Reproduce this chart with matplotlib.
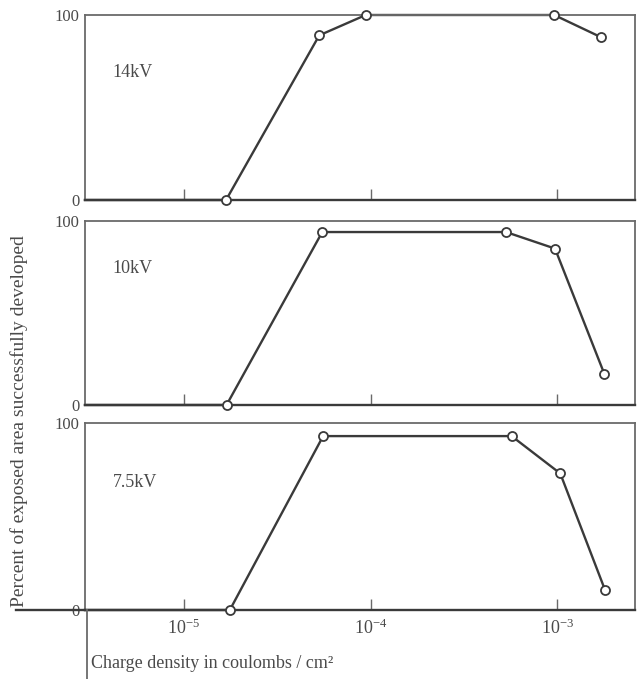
import matplotlib
matplotlib.use("Agg")
import matplotlib.pyplot as plt
from matplotlib.lines import Line2D

plt.rcParams['font.family'] = ['Liberation Serif', 'DejaVu Serif']
plt.rcParams['mathtext.fontset'] = 'custom'
plt.rcParams['mathtext.rm'] = 'Liberation Serif'
plt.rcParams['mathtext.it'] = 'Liberation Serif:italic'

# ---- data ----
panel_labels = ["14kV", "10kV", "7.5kV"]
x_14kv = [1.68e-5, 5.3e-5, 9.4e-5, 9.6e-4, 1.71e-3]
y_14kv = [0, 89, 100, 100, 88]
x_10kv = [1.69e-5, 5.5e-5, 5.3e-4, 9.7e-4, 1.78e-3]
y_10kv = [0, 94, 94, 85, 17]
x_75kv = [1.76e-5, 5.56e-5, 5.68e-4, 1.035e-3, 1.80e-3]
y_75kv = [0, 93, 93, 73, 10.5]
xtick_vals = [1e-5, 1e-4, 1e-3]
xtick_labels = [r"$10^{-5}$", r"$10^{-4}$", r"$10^{-3}$"]
ytick_vals = [0, 100]
ytick_labels = ["0", "100"]
xlim = (10 ** -5.53, 10 ** -2.585)

series = [(x_14kv, y_14kv), (x_10kv, y_10kv), (x_75kv, y_75kv)]
label_y = [0.69, 0.74, 0.68]

line_c = "#3a3a3a"
frame_c = "#6a6a6a"
text_c = "#4a4a4a"

W, H = 641, 679
fig = plt.figure(figsize=(W / 100, H / 100), dpi=100)

# panel pixel boxes (top, bottom)
boxes = [(15, 200), (221, 405), (423, 610)]
left_px, right_px = 85, 635

for i, ((top, bot), (xs, ys), lab) in enumerate(zip(boxes, series, panel_labels)):
    ax = fig.add_axes([left_px / W, 1 - bot / H, (right_px - left_px) / W, (bot - top) / H])
    ax.set_xscale('log')
    ax.set_xlim(*xlim)
    ax.set_ylim(0, 100)
    # baseline from the left edge to the first point
    ax.plot([xlim[0]] + xs, [ys[0]] + ys, color=line_c, lw=1.7, zorder=2, clip_on=False)
    ax.plot(xs, ys, linestyle='none', marker='o', ms=6.5, mfc='white',
            mec=line_c, mew=1.3, zorder=3, clip_on=False)
    for s in ax.spines.values():
        s.set_color(frame_c)
        s.set_linewidth(1.3)
    ax.spines['bottom'].set_color(line_c)
    ax.spines['bottom'].set_linewidth(1.7)
    ax.set_xticks(xtick_vals)
    ax.xaxis.set_minor_locator(matplotlib.ticker.NullLocator())
    ax.tick_params(axis='x', direction='in', length=8, width=1.0, color=frame_c,
                   labelsize=13, labelcolor=text_c, pad=6)
    if i == 2:
        ax.set_xticklabels(xtick_labels)
    else:
        ax.set_xticklabels([])
    ax.set_yticks(ytick_vals)
    ax.set_yticklabels(ytick_labels)
    ax.tick_params(axis='y', length=0, labelsize=12, labelcolor=text_c, pad=4)
    ax.text(0.05, label_y[i], lab, transform=ax.transAxes, fontsize=13, color=text_c,
            ha='left', va='center')

# extra axis lines of the bottom panel (horizontal extension and vertical drop)
fig.add_artist(Line2D([16 / W, left_px / W], [1 - 610 / H, 1 - 610 / H],
                      color=line_c, lw=1.7, transform=fig.transFigure))
fig.add_artist(Line2D([87 / W, 87 / W], [1 - 610 / H, 0],
                      color=frame_c, lw=1.3, transform=fig.transFigure))

fig.text(19 / W, 1 - 607 / H, "Percent of exposed area successfully developed",
         rotation=90, ha='center', va='bottom', fontsize=14, color=text_c)
fig.text(91 / W, 1 - 663 / H, "Charge density in coulombs / cm²",
         ha='left', va='center', fontsize=13, color=text_c)

fig.savefig("out.png", dpi=100, facecolor='white')
